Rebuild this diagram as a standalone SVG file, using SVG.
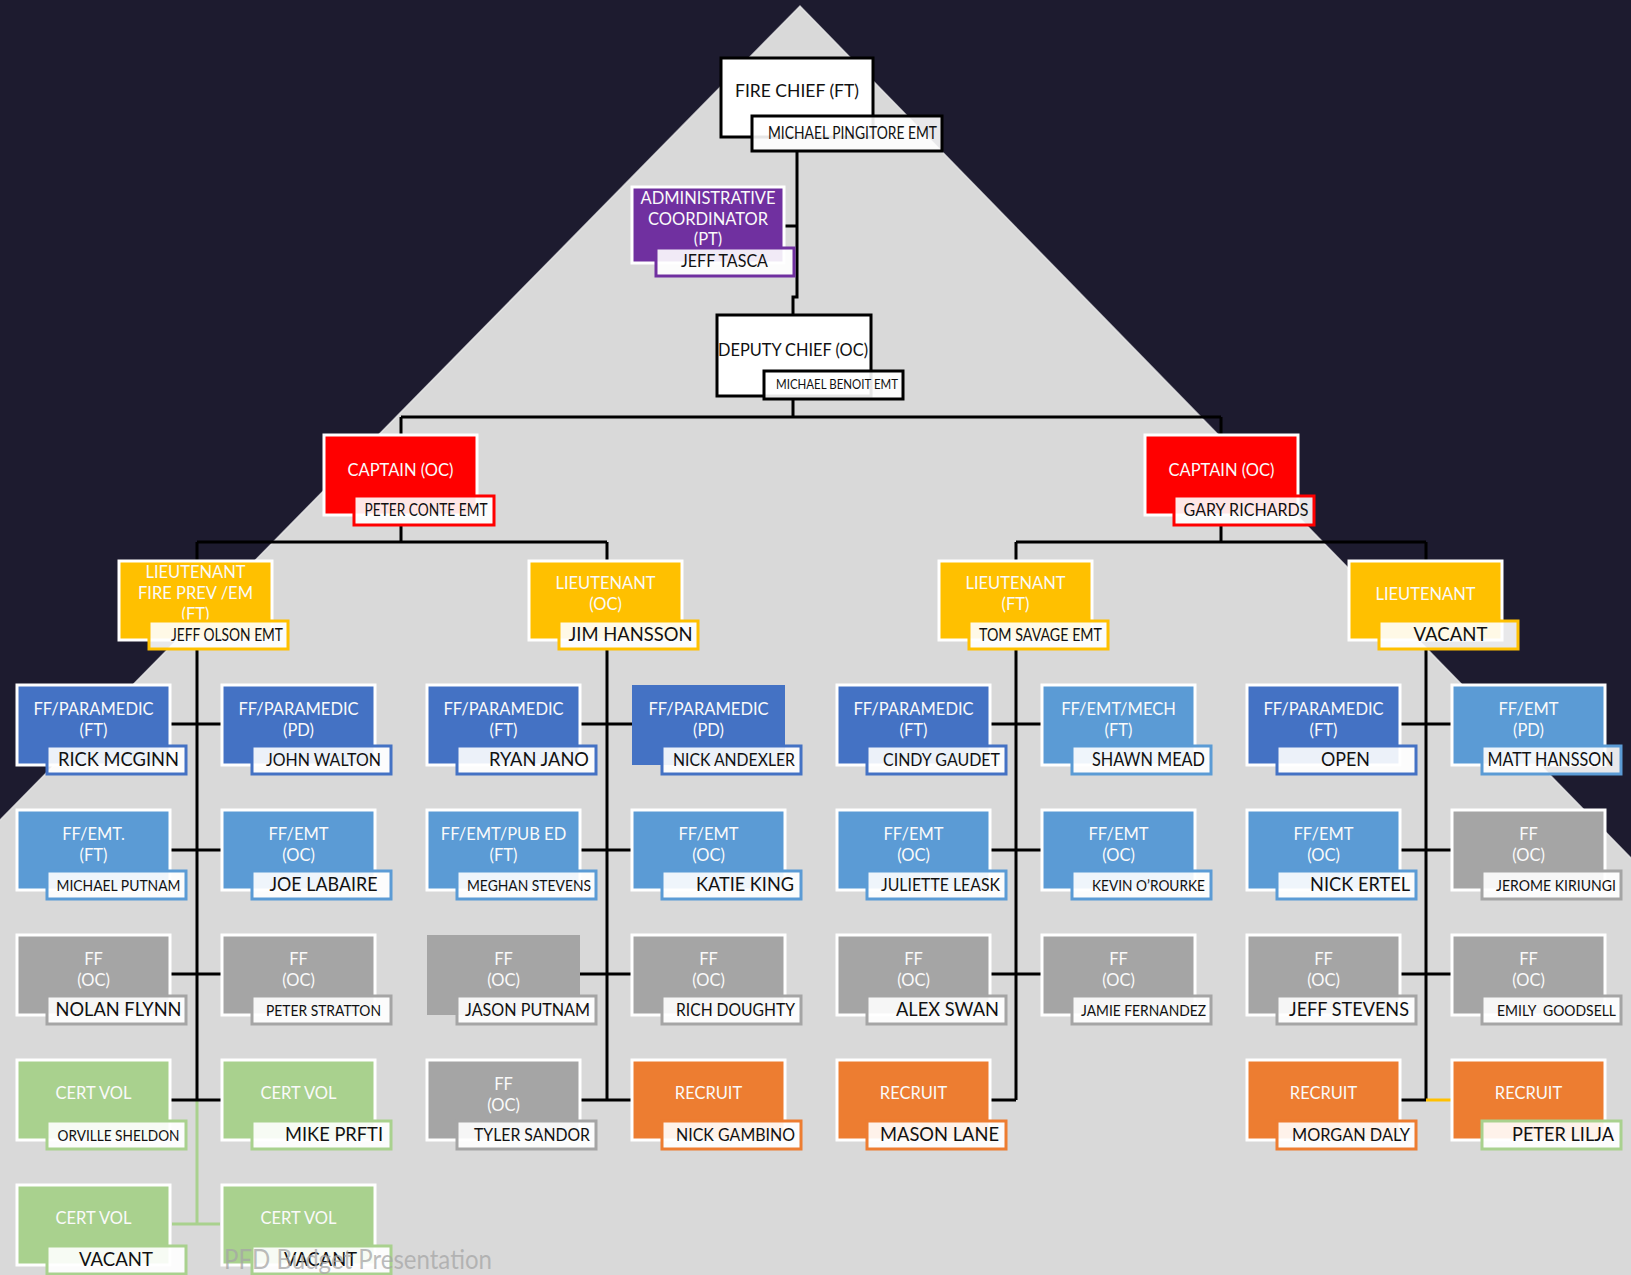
<svg xmlns="http://www.w3.org/2000/svg" width="1631" height="1275" viewBox="0 0 1631 1275">
<style>
.box{stroke:#fff;stroke-width:3}
.nob{stroke:none}
.bk{fill:#fff;stroke:#000;stroke-width:3}
.b1{fill:#4472c4}.b2{fill:#5b9bd5}.gy{fill:#a5a5a5}.gr{fill:#a9d18e}.or{fill:#ed7d31}.ye{fill:#ffc000}.rd{fill:#ff0000}.pu{fill:#7030a0}
.nm{fill:#fff;fill-opacity:.9;stroke-width:3}
.s1{stroke:#4472c4}.s2{stroke:#5b9bd5}.sg{stroke:#a5a5a5}.sgr{stroke:#a9d18e}.so{stroke:#ed7d31}.sy{stroke:#ffc000}.sr{stroke:#ff0000}.sp{stroke:#7030a0}.sk{stroke:#000}
.t{font-family:Lato,"Liberation Sans",sans-serif;font-size:16.5px;fill:#fafafa;text-anchor:middle}
.tk{font-family:Lato,"Liberation Sans",sans-serif;font-size:17.5px;fill:#111;text-anchor:middle}
.n{font-family:Lato,"Liberation Sans",sans-serif;fill:#111;text-anchor:middle;white-space:pre}
.L{font-size:19px}.M{font-size:16.5px}.S{font-size:15px}.X{font-size:13px}
.ln{stroke:#000;stroke-width:3;fill:none}
.lg{stroke:#a9d18e;stroke-width:3;fill:none}
.ly{stroke:#ffc000;stroke-width:3;fill:none}
</style>
<rect x="0" y="0" width="1631" height="1275" fill="#1d1b2f"/>
<polygon points="800,6 1631,858 1631,1275 0,1275 0,820" fill="#d9d9d9"/>
<polyline points="0,820 800,6 1631,858" fill="none" stroke="#f2f2f2" stroke-width="1.5" stroke-opacity="0.7"/>

<g id="connectors">
<path class="ln" d="M797,151 V297 H793 V315"/>
<path class="ln" d="M784,226 H797"/>
<path class="ln" d="M793,399 V417 M401,417 H1221 M401,417 V435 M1221,417 V435"/>
<path class="ln" d="M401,525 V542 M197,542 H607 M197,542 V561 M607,542 V561"/>
<path class="ln" d="M1221,525 V542 M1016,542 H1426 M1016,542 V561 M1426,542 V561"/>
<path class="ln" d="M197,649 V1100 M607,649 V1100 M1016,649 V1100 M1426,649 V1100"/>
<path class="lg" d="M197,1100 V1224 M172,1224 H220"/>
<path class="ln" d="M170,724 H222 M170,850 H222 M170,974 H222 M170,1100 H222"/>
<path class="ln" d="M580,724 H632 M580,850 H632 M580,974 H632 M580,1100 H632"/>
<path class="ln" d="M990,724 H1042 M990,850 H1042 M990,974 H1042 M990,1100 H1016"/>
<path class="ln" d="M1400,724 H1452 M1400,850 H1452 M1400,974 H1452 M1400,1100 H1426"/>
<path class="ly" d="M1426,1100 H1452"/>
</g>

<g id="fire-chief">
<rect class="bk" x="721" y="58" width="152" height="79"/>
<text class="tk" x="797" y="97">FIRE CHIEF (FT)</text>
<rect class="nm sk" x="752" y="116" width="190" height="35"/>
<text class="n M" x="852.5" y="139" textLength="169" lengthAdjust="spacingAndGlyphs">MICHAEL PINGITORE EMT</text>
</g>
<g id="admin-coordinator">
<rect class="box pu" x="632" y="187" width="152" height="76"/>
<text class="t" x="708" y="204">ADMINISTRATIVE</text>
<text class="t" x="708" y="225">COORDINATOR</text>
<text class="t" x="708" y="245">(PT)</text>
<rect class="nm sp" x="656" y="248" width="138" height="28"/>
<text class="n M" x="724.5" y="267" textLength="87" lengthAdjust="spacingAndGlyphs">JEFF TASCA</text>
</g>
<g id="deputy-chief">
<rect class="bk" x="717" y="315" width="154" height="81"/>
<text class="tk" x="793" y="356" textLength="150" lengthAdjust="spacingAndGlyphs">DEPUTY CHIEF (OC)</text>
<rect class="nm sk" x="764" y="371" width="139" height="28"/>
<text class="n X" x="837" y="389" textLength="122" lengthAdjust="spacingAndGlyphs">MICHAEL BENOIT EMT</text>
</g>

<g id="captain-left">
<rect class="box rd" x="324" y="435" width="153" height="80"/>
<text class="t" x="400.5" y="476">CAPTAIN (OC)</text>
<rect class="nm sr" x="354" y="496" width="140" height="29"/>
<text class="n M" x="426" y="516" textLength="123" lengthAdjust="spacingAndGlyphs">PETER CONTE EMT</text>
</g>
<g id="captain-right">
<rect class="box rd" x="1145" y="435" width="153" height="80"/>
<text class="t" x="1221.5" y="476">CAPTAIN (OC)</text>
<rect class="nm sr" x="1174" y="496" width="140" height="29"/>
<text class="n M" x="1246" y="516" textLength="125" lengthAdjust="spacingAndGlyphs">GARY RICHARDS</text>
</g>

<g id="lt-fire-prev">
<rect class="box ye" x="119" y="561" width="153" height="79"/>
<text class="t" x="195.5" y="578">LIEUTENANT</text>
<text class="t" x="195.5" y="599">FIRE PREV /EM</text>
<text class="t" x="195.5" y="620">(FT)</text>
<rect class="nm sy" x="149" y="621" width="139" height="28"/>
<text class="n M" x="227" y="641" textLength="112" lengthAdjust="spacingAndGlyphs">JEFF OLSON EMT</text>
</g>
<g id="lt-hansson">
<rect class="box ye" x="529" y="561" width="153" height="79"/>
<text class="t" x="605.5" y="589">LIEUTENANT</text>
<text class="t" x="605.5" y="610">(OC)</text>
<rect class="nm sy" x="559" y="621" width="139" height="28"/>
<text class="n L" x="630.5" y="641" textLength="124" lengthAdjust="spacingAndGlyphs">JIM HANSSON</text>
</g>
<g id="lt-savage">
<rect class="box ye" x="939" y="561" width="153" height="79"/>
<text class="t" x="1015.5" y="589">LIEUTENANT</text>
<text class="t" x="1015.5" y="610">(FT)</text>
<rect class="nm sy" x="969" y="621" width="139" height="28"/>
<text class="n M" x="1040.5" y="641" textLength="123" lengthAdjust="spacingAndGlyphs">TOM SAVAGE EMT</text>
</g>
<g id="lt-vacant">
<rect class="box ye" x="1349" y="561" width="153" height="79"/>
<text class="t" x="1425.5" y="600">LIEUTENANT</text>
<rect class="nm sy" x="1379" y="621" width="139" height="28"/>
<text class="n L" x="1450.5" y="641" textLength="74" lengthAdjust="spacingAndGlyphs">VACANT</text>
</g>

<!-- Group 1 -->
<g id="g1-mcginn"><rect class="box b1" x="17" y="685" width="153" height="80"/><text class="t" x="93.5" y="715">FF/PARAMEDIC</text><text class="t" x="93.5" y="736">(FT)</text><rect class="nm s1" x="47" y="746" width="139" height="28"/><text class="n L" x="118.5" y="766" textLength="121" lengthAdjust="spacingAndGlyphs">RICK MCGINN</text></g>
<g id="g1-walton"><rect class="box b1" x="222" y="685" width="153" height="80"/><text class="t" x="298.5" y="715">FF/PARAMEDIC</text><text class="t" x="298.5" y="736">(PD)</text><rect class="nm s1" x="252" y="746" width="139" height="28"/><text class="n M" x="323.5" y="766" textLength="115" lengthAdjust="spacingAndGlyphs">JOHN WALTON</text></g>
<g id="g1-putnam"><rect class="box b2" x="17" y="810" width="153" height="80"/><text class="t" x="93.5" y="840">FF/EMT.</text><text class="t" x="93.5" y="861">(FT)</text><rect class="nm s2" x="47" y="871" width="139" height="28"/><text class="n S" x="118.5" y="891" textLength="124" lengthAdjust="spacingAndGlyphs">MICHAEL PUTNAM</text></g>
<g id="g1-labaire"><rect class="box b2" x="222" y="810" width="153" height="80"/><text class="t" x="298.5" y="840">FF/EMT</text><text class="t" x="298.5" y="861">(OC)</text><rect class="nm s2" x="252" y="871" width="139" height="28"/><text class="n L" x="323.5" y="891" textLength="108" lengthAdjust="spacingAndGlyphs">JOE LABAIRE</text></g>
<g id="g1-flynn"><rect class="box gy" x="17" y="935" width="153" height="80"/><text class="t" x="93.5" y="965">FF</text><text class="t" x="93.5" y="986">(OC)</text><rect class="nm sg" x="47" y="996" width="139" height="28"/><text class="n L" x="118.5" y="1016" textLength="126" lengthAdjust="spacingAndGlyphs">NOLAN FLYNN</text></g>
<g id="g1-stratton"><rect class="box gy" x="222" y="935" width="153" height="80"/><text class="t" x="298.5" y="965">FF</text><text class="t" x="298.5" y="986">(OC)</text><rect class="nm sg" x="252" y="996" width="139" height="28"/><text class="n S" x="323.5" y="1016" textLength="115" lengthAdjust="spacingAndGlyphs">PETER STRATTON</text></g>
<g id="g1-sheldon"><rect class="box gr" x="17" y="1060" width="153" height="80"/><text class="t" x="93.5" y="1099">CERT VOL</text><rect class="nm sgr" x="47" y="1121" width="139" height="28"/><text class="n S" x="118.5" y="1141" textLength="122" lengthAdjust="spacingAndGlyphs">ORVILLE SHELDON</text></g>
<g id="g1-prfti"><rect class="box gr" x="222" y="1060" width="153" height="80"/><text class="t" x="298.5" y="1099">CERT VOL</text><rect class="nm sgr" x="252" y="1121" width="139" height="28"/><text class="n L" x="334" y="1141" textLength="98" lengthAdjust="spacingAndGlyphs">MIKE PRFTI</text></g>
<g id="g1-vacant-a"><rect class="box gr" x="17" y="1185" width="153" height="80"/><text class="t" x="93.5" y="1224">CERT VOL</text><rect class="nm sgr" x="47" y="1246" width="139" height="28"/><text class="n L" x="116" y="1266" textLength="74" lengthAdjust="spacingAndGlyphs">VACANT</text></g>
<g id="g1-vacant-b"><rect class="box gr" x="222" y="1185" width="153" height="80"/><text class="t" x="298.5" y="1224">CERT VOL</text><rect class="nm sgr" x="252" y="1246" width="139" height="28"/><text class="n L" x="320.5" y="1266" textLength="73" lengthAdjust="spacingAndGlyphs">VACANT</text></g>

<!-- Group 2 -->
<g id="g2-jano"><rect class="box b1" x="427" y="685" width="153" height="80"/><text class="t" x="503.5" y="715">FF/PARAMEDIC</text><text class="t" x="503.5" y="736">(FT)</text><rect class="nm s1" x="457" y="746" width="139" height="28"/><text class="n L" x="539" y="766" textLength="100" lengthAdjust="spacingAndGlyphs">RYAN JANO</text></g>
<g id="g2-andexler"><rect class="box nob b1" x="632" y="685" width="153" height="80"/><text class="t" x="708.5" y="715">FF/PARAMEDIC</text><text class="t" x="708.5" y="736">(PD)</text><rect class="nm s1" x="662" y="746" width="139" height="28"/><text class="n M" x="734" y="766" textLength="122" lengthAdjust="spacingAndGlyphs">NICK ANDEXLER</text></g>
<g id="g2-stevens"><rect class="box b2" x="427" y="810" width="153" height="80"/><text class="t" x="503.5" y="840">FF/EMT/PUB ED</text><text class="t" x="503.5" y="861">(FT)</text><rect class="nm s2" x="457" y="871" width="139" height="28"/><text class="n S" x="529" y="891" textLength="124" lengthAdjust="spacingAndGlyphs">MEGHAN STEVENS</text></g>
<g id="g2-king"><rect class="box b2" x="632" y="810" width="153" height="80"/><text class="t" x="708.5" y="840">FF/EMT</text><text class="t" x="708.5" y="861">(OC)</text><rect class="nm s2" x="662" y="871" width="139" height="28"/><text class="n L" x="745" y="891" textLength="98" lengthAdjust="spacingAndGlyphs">KATIE KING</text></g>
<g id="g2-jputnam"><rect class="box nob gy" x="427" y="935" width="153" height="80"/><text class="t" x="503.5" y="965">FF</text><text class="t" x="503.5" y="986">(OC)</text><rect class="nm sg" x="457" y="996" width="139" height="28"/><text class="n M" x="527.5" y="1016" textLength="125" lengthAdjust="spacingAndGlyphs">JASON PUTNAM</text></g>
<g id="g2-doughty"><rect class="box gy" x="632" y="935" width="153" height="80"/><text class="t" x="708.5" y="965">FF</text><text class="t" x="708.5" y="986">(OC)</text><rect class="nm sg" x="662" y="996" width="139" height="28"/><text class="n M" x="735.5" y="1016" textLength="119" lengthAdjust="spacingAndGlyphs">RICH DOUGHTY</text></g>
<g id="g2-sandor"><rect class="box gy" x="427" y="1060" width="153" height="80"/><text class="t" x="503.5" y="1090">FF</text><text class="t" x="503.5" y="1111">(OC)</text><rect class="nm sg" x="457" y="1121" width="139" height="28"/><text class="n M" x="532" y="1141" textLength="116" lengthAdjust="spacingAndGlyphs">TYLER SANDOR</text></g>
<g id="g2-gambino"><rect class="box or" x="632" y="1060" width="153" height="80"/><text class="t" x="708.5" y="1099">RECRUIT</text><rect class="nm so" x="662" y="1121" width="139" height="28"/><text class="n M" x="735.5" y="1141" textLength="119" lengthAdjust="spacingAndGlyphs">NICK GAMBINO</text></g>

<!-- Group 3 -->
<g id="g3-gaudet"><rect class="box b1" x="837" y="685" width="153" height="80"/><text class="t" x="913.5" y="715">FF/PARAMEDIC</text><text class="t" x="913.5" y="736">(FT)</text><rect class="nm s1" x="867" y="746" width="139" height="28"/><text class="n M" x="941.5" y="766" textLength="117" lengthAdjust="spacingAndGlyphs">CINDY GAUDET</text></g>
<g id="g3-mead"><rect class="box b2" x="1042" y="685" width="153" height="80"/><text class="t" x="1118.5" y="715">FF/EMT/MECH</text><text class="t" x="1118.5" y="736">(FT)</text><rect class="nm s2" x="1072" y="746" width="139" height="28"/><text class="n L" x="1148.5" y="766" textLength="113" lengthAdjust="spacingAndGlyphs">SHAWN MEAD</text></g>
<g id="g3-leask"><rect class="box b2" x="837" y="810" width="153" height="80"/><text class="t" x="913.5" y="840">FF/EMT</text><text class="t" x="913.5" y="861">(OC)</text><rect class="nm s2" x="867" y="871" width="139" height="28"/><text class="n M" x="940.5" y="891" textLength="119" lengthAdjust="spacingAndGlyphs">JULIETTE LEASK</text></g>
<g id="g3-orourke"><rect class="box b2" x="1042" y="810" width="153" height="80"/><text class="t" x="1118.5" y="840">FF/EMT</text><text class="t" x="1118.5" y="861">(OC)</text><rect class="nm s2" x="1072" y="871" width="139" height="28"/><text class="n S" x="1148.5" y="891" textLength="113" lengthAdjust="spacingAndGlyphs">KEVIN O’ROURKE</text></g>
<g id="g3-swan"><rect class="box gy" x="837" y="935" width="153" height="80"/><text class="t" x="913.5" y="965">FF</text><text class="t" x="913.5" y="986">(OC)</text><rect class="nm sg" x="867" y="996" width="139" height="28"/><text class="n L" x="947.5" y="1016" textLength="103" lengthAdjust="spacingAndGlyphs">ALEX SWAN</text></g>
<g id="g3-fernandez"><rect class="box gy" x="1042" y="935" width="153" height="80"/><text class="t" x="1118.5" y="965">FF</text><text class="t" x="1118.5" y="986">(OC)</text><rect class="nm sg" x="1072" y="996" width="139" height="28"/><text class="n S" x="1143.5" y="1016" textLength="125" lengthAdjust="spacingAndGlyphs">JAMIE FERNANDEZ</text></g>
<g id="g3-lane"><rect class="box or" x="837" y="1060" width="153" height="80"/><text class="t" x="913.5" y="1099">RECRUIT</text><rect class="nm so" x="867" y="1121" width="139" height="28"/><text class="n L" x="939.5" y="1141" textLength="119" lengthAdjust="spacingAndGlyphs">MASON LANE</text></g>

<!-- Group 4 -->
<g id="g4-open"><rect class="box b1" x="1247" y="685" width="153" height="80"/><text class="t" x="1323.5" y="715">FF/PARAMEDIC</text><text class="t" x="1323.5" y="736">(FT)</text><rect class="nm s1" x="1277" y="746" width="139" height="28"/><text class="n L" x="1345.5" y="766" textLength="49" lengthAdjust="spacingAndGlyphs">OPEN</text></g>
<g id="g4-hansson"><rect class="box b2" x="1452" y="685" width="153" height="80"/><text class="t" x="1528.5" y="715">FF/EMT</text><text class="t" x="1528.5" y="736">(PD)</text><rect class="nm s2" x="1482" y="746" width="139" height="28"/><text class="n L" x="1550.5" y="766" textLength="126" lengthAdjust="spacingAndGlyphs">MATT HANSSON</text></g>
<g id="g4-ertel"><rect class="box b2" x="1247" y="810" width="153" height="80"/><text class="t" x="1323.5" y="840">FF/EMT</text><text class="t" x="1323.5" y="861">(OC)</text><rect class="nm s2" x="1277" y="871" width="139" height="28"/><text class="n L" x="1360" y="891" textLength="100" lengthAdjust="spacingAndGlyphs">NICK ERTEL</text></g>
<g id="g4-kiriungi"><rect class="box gy" x="1452" y="810" width="153" height="80"/><text class="t" x="1528.5" y="840">FF</text><text class="t" x="1528.5" y="861">(OC)</text><rect class="nm sg" x="1482" y="871" width="139" height="28"/><text class="n S" x="1556" y="891" textLength="120" lengthAdjust="spacingAndGlyphs">JEROME KIRIUNGI</text></g>
<g id="g4-jstevens"><rect class="box gy" x="1247" y="935" width="153" height="80"/><text class="t" x="1323.5" y="965">FF</text><text class="t" x="1323.5" y="986">(OC)</text><rect class="nm sg" x="1277" y="996" width="139" height="28"/><text class="n L" x="1349" y="1016" textLength="120" lengthAdjust="spacingAndGlyphs">JEFF STEVENS</text></g>
<g id="g4-goodsell"><rect class="box gy" x="1452" y="935" width="153" height="80"/><text class="t" x="1528.5" y="965">FF</text><text class="t" x="1528.5" y="986">(OC)</text><rect class="nm sg" x="1482" y="996" width="139" height="28"/><text class="n S" x="1556.5" y="1016" textLength="119" lengthAdjust="spacingAndGlyphs">EMILY  GOODSELL</text></g>
<g id="g4-daly"><rect class="box or" x="1247" y="1060" width="153" height="80"/><text class="t" x="1323.5" y="1099">RECRUIT</text><rect class="nm so" x="1277" y="1121" width="139" height="28"/><text class="n M" x="1351" y="1141" textLength="118" lengthAdjust="spacingAndGlyphs">MORGAN DALY</text></g>
<g id="g4-lilja"><rect class="box or" x="1452" y="1060" width="153" height="80"/><text class="t" x="1528.5" y="1099">RECRUIT</text><rect class="nm sgr" x="1482" y="1121" width="139" height="28"/><text class="n L" x="1563" y="1141" textLength="102" lengthAdjust="spacingAndGlyphs">PETER LILJA</text></g>

<text x="224" y="1269" font-family="Lato, 'Liberation Sans', sans-serif" font-size="26" fill="#a6a6a6" fill-opacity="0.75" textLength="268" lengthAdjust="spacingAndGlyphs">PFD Budget Presentation</text>
</svg>
